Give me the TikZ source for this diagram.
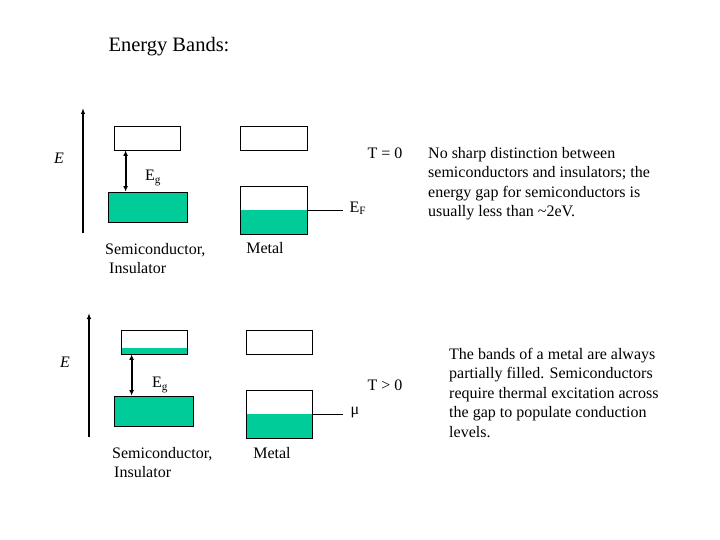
\documentclass[tikz,border=0pt]{standalone}
\usepackage{fontspec}
\setmainfont{Liberation Serif}
\usetikzlibrary{arrows.meta}
\definecolor{bandgreen}{RGB}{0,204,153}
\tikzset{
  band/.style = {draw=black, line width=0.8pt, minimum width=66pt,
    minimum height=24pt, inner sep=0pt},% bande vide
  filled_band/.style = {band, fill=bandgreen},% bande remplie
  half_band/.style = {band, minimum height=48pt, path picture={
    \fill[bandgreen] (path picture bounding box.west)
      rectangle (path picture bounding box.south east);}},% metal
  strip_band/.style = {band, path picture={
    \fill[bandgreen] ([yshift=6pt]path picture bounding box.south west)
      rectangle (path picture bounding box.south east);}},% bande peu remplie
  axis/.style = {line width=1.9pt, -{Latex[length=6pt,width=4.5pt]}},
  gap/.style = {line width=1.9pt, {Latex[length=5.5pt,width=5pt]}-{Latex[length=5.5pt,width=5pt]}},
  level_line/.style = {line width=0.8pt},
  label_text/.style = {inner sep=0pt, font=\fontsize{16}{19.5}\selectfont},
  title_text/.style = {inner sep=0pt, font=\fontsize{20.5}{24}\selectfont}
}
\begin{document}
\begin{tikzpicture}[x=1pt, y=-1pt]
  \useasboundingbox (0,0) rectangle (720,540);
  \node [title_text] (title) at (169,47) {Energy Bands:};

  % T = 0
  \coordinate (ax_a_low) at (83,233);
  \coordinate (ax_a_top) at (83,108);
  \draw [axis] (ax_a_low) -- (ax_a_top);
  \node [label_text] (e_a) at (59,158) {\textit{E}};
  \node [band] (cb_a) at (147,138) {};
  \node [filled_band, minimum width=79pt, minimum height=30pt] (vb_a) at (147.5,207) {};
  \coordinate (gap_a) at ([xshift=12pt]cb_a.south west);
  \draw [gap] (gap_a) -- (gap_a |- vb_a.north);
  \node [label_text, anchor=west] (eg_a) at (145,178) {E\textsubscript{g}};
  \node [label_text, align=left, anchor=north west] (semi_a) at (105,243)
    {Semiconductor,\\\hspace*{4pt}Insulator};

  \node [band, minimum width=67pt] (mc_a) at (273.5,138) {};
  \node [half_band, minimum width=67pt] (mv_a) at (273.5,210) {};
  \coordinate (ef_end) at ([xshift=36pt]mv_a.east);
  \draw [level_line] (mv_a.east) -- (ef_end);
  \node [label_text, anchor=base west] (ef) at ([xshift=6pt, yshift=-2pt]ef_end) {E\textsubscript{F}};
  \node [label_text] (metal_a) at (265,248) {Metal};
  \node [label_text] (t_a) at (385,153) {T = 0};

  \node [label_text, align=left, anchor=north west] (note_a) at (428,147)
    {No sharp distinction between\\
     semiconductors and insulators; the\\
     energy gap for semiconductors is\\
     usually less than \textasciitilde 2eV.};

  % T > 0
  \coordinate (ax_b_low) at (89,437);
  \coordinate (ax_b_top) at (89,313);
  \draw [axis] (ax_b_low) -- (ax_b_top);
  \node [label_text] (e_b) at (65,362) {\textit{E}};
  \node [strip_band] (cb_b) at (154,342) {};
  \node [filled_band, minimum width=79pt, minimum height=30pt] (vb_b) at (153.5,411) {};
  \coordinate (gap_b) at ([xshift=11pt]cb_b.south west);
  \draw [gap] (gap_b) -- (gap_b |- vb_b.north);
  \node [label_text, anchor=west] (eg_b) at (152,385) {E\textsubscript{g}};
  \node [label_text, align=left, anchor=north west] (semi_b) at (112,447)
    {Semiconductor,\\\hspace*{2pt}Insulator};

  \node [band] (mc_b) at (279,342) {};
  \node [half_band] (mv_b) at (279,414) {};
  \coordinate (mu_end) at ([xshift=31pt]mv_b.east);
  \draw [level_line] (mv_b.east) -- (mu_end);
  \node [label_text, anchor=base west] (mu) at ([xshift=7pt]mu_end) {μ};
  \node [label_text] (metal_b) at (272,453) {Metal};
  \node [label_text] (t_b) at (385,385) {T > 0};

  \node [label_text, align=left, anchor=north west] (note_b) at (449,348)
    {The bands of a metal are always\\
     partially filled. Semiconductors\\
     require thermal excitation across\\
     the gap to populate conduction\\
     levels.};
\end{tikzpicture}
\end{document}
